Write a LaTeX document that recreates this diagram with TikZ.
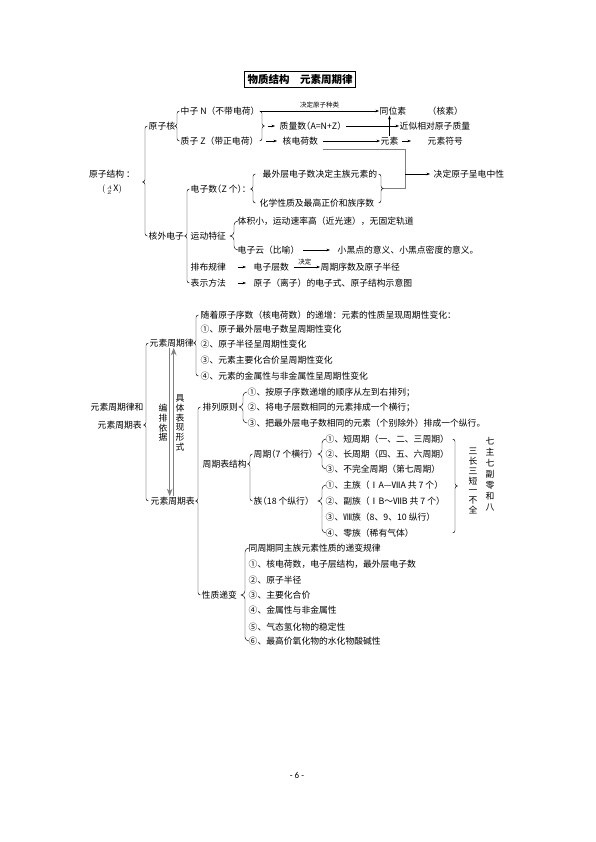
\documentclass[tikz,border=0pt]{standalone}
\usepackage{amsmath}
\usepackage{fontspec}
\setmainfont{Noto Sans CJK SC}
\newfontfamily\pagefont{Carlito}
\usetikzlibrary{arrows.meta,calc}

\newcommand\zh{\fontsize{8.8}{10.5}\selectfont}
% left brace: [depth]{x}{tip}{first}{last}
\newcommand\lbr[5][2.5pt]{%
  \draw[brc] let \p1=(#3), \p2=(#4), \p3=(#5) in
    ({#2pt+#1},\y2) to[out=180,in=90] ({#2pt},\y2-#1) -- ({#2pt},\y1+#1)
    to[out=-90,in=0] ({#2pt-#1},\y1) to[out=0,in=90] ({#2pt},\y1-#1)
    -- ({#2pt},\y3+#1) to[out=-90,in=180] ({#2pt+#1},\y3);}
% right brace: [depth]{x}{first}{last}{tip name}
\newcommand\rbr[5][2.5pt]{%
  \draw[brc] let \p2=(#3), \p3=(#4) in
    ({#2pt-#1},\y2) to[out=0,in=90] ({#2pt},\y2-#1) -- ({#2pt},{(\y2+\y3)/2+#1})
    to[out=-90,in=180] ({#2pt+#1},{(\y2+\y3)/2}) coordinate (#5)
    to[out=180,in=90] ({#2pt},{(\y2+\y3)/2-#1}) -- ({#2pt},\y3+#1)
    to[out=-90,in=0] ({#2pt-#1},\y3);}

\begin{document}
\begin{tikzpicture}[
  x=1pt, y=-1pt,
  >=Stealth,
  every node/.style={inner sep=0.5pt, font=\zh},
  item/.style={anchor=west},
  narrow/.style={font=\zh\addfontfeatures{RawFeature=+halt}},
  arr/.style={->, >={Stealth[length=3.5pt,width=2.6pt]}, line width=0.45pt},
  brc/.style={line width=0.45pt},
  gline/.style={line width=1pt, black!50},
  vtext/.style={align=center, inner sep=0pt, font=\fontsize{8.8}{9.7}\selectfont},
  note/.style={font=\fontsize{6.5}{7}\selectfont, inner sep=1pt}
]
  \path[use as bounding box, fill=white] (0,0) rectangle (596,842);

  \node[draw, line width=0.6pt, inner xsep=3pt, inner ysep=3pt,
    font=\fontsize{10.5}{12}\selectfont\bfseries] (title) at (300,79) {物质结构　元素周期律};

  % 原子结构
  \node[align=center] (yzjg) at (112,182) {原子结构 ：\\[4pt]$(\genfrac{}{}{0pt}{3}{A}{Z}\mathrm{X})$};
  \node[item] (yzh) at (148,126) {原子核};
  \node[item] (zz) at (180,111) {中子 N（不带电荷）};
  \node[item] (zhz) at (180,141) {质子 Z（带正电荷）};
  \node[item] (twx) at (379,111) {同位素};
  \node[item] (hs) at (427,111) {（核素）};
  \node[item, narrow] (zls) at (279,126) {质量数（A=N+Z）};
  \node[item] (jsxd) at (399,126) {近似相对原子质量};
  \node[item] (hdhs) at (282,141) {核电荷数};
  \node[item] (ys) at (380,141) {元素};
  \node[item] (ysfh) at (427,141) {元素符号};
  \node[item] (dzx) at (433,174) {决定原子呈电中性};

  \node[item] (hwdz) at (148,236) {核外电子};
  \node[item, narrow] (dzs) at (190,189) {电子数（Z 个）：};
  \node[item] (zwc) at (262,174) {最外层电子数决定主族元素的};
  \node[item] (hxxz) at (259,203) {化学性质及最高正价和族序数};
  \node[item] (ydtz) at (190,236) {运动特征};
  \node[item] (tjx) at (237,221) {体积小，运动速率高（近光速），无固定轨道};
  \node[item] (dzy) at (237,250) {电子云（比喻）};
  \node[item] (xhd) at (337,250) {小黑点的意义、小黑点密度的意义。};
  \node[item] (pbgl) at (190,267) {排布规律};
  \node[item] (dzcs) at (253,267) {电子层数};
  \node[item] (zqxs) at (320,267) {周期序数及原子半径};
  \node[item] (bsff) at (190,283) {表示方法};
  \node[item] (dzsh) at (253,283) {原子（离子）的电子式、原子结构示意图};

  \lbr{145}{yzjg}{yzh}{hwdz}
  \lbr{177}{yzh}{zz}{zhz}
  \rbr{262}{zz}{zhz}{nbr}
  \lbr{187}{hwdz}{dzs}{bsff}
  \lbr{253}{dzs}{zwc}{hxxz}
  \rbr{381}{zwc}{hxxz}{ebr}
  \lbr[4pt]{234}{ydtz}{tjx}{dzy}

  \draw[arr] (zz) -- (twx) node[note, midway, above=1.5pt] {决定原子种类};
  \draw[arr, shorten <=3pt, shorten >=4pt] (nbr) -- (zls);
  \draw[arr, shorten <=4pt] (zls) -- (jsxd);
  \draw[arr, shorten <=7pt, shorten >=5pt] (zhz) -- (hdhs);
  \draw[arr, shorten <=4pt] (hdhs) -- (ys);
  \draw[arr, shorten <=3pt, shorten >=16pt] (ys) -- (ysfh);
  \draw[arr] (ys.north) -- (ys.north |- twx.south);

  \coordinate (jtop) at (405,150);
  \coordinate (jn) at (405,174);
  \draw[gline] (hdhs.east |- jtop) ++(4,0) -- (jtop) -- (jtop |- ebr) -- (ebr);
  \draw[arr, shorten >=3pt] (jn) -- (dzx);

  \draw[arr, shorten <=3pt, shorten >=7pt] (dzy) -- (xhd);
  \draw[arr, shorten <=11pt, shorten >=7pt] (pbgl) -- (dzcs);
  \draw[arr, shorten <=4pt] (dzcs) -- (zqxs) node[note, midway, above=0.5pt] {决定};
  \draw[arr, shorten <=11pt, shorten >=7pt] (bsff) -- (dzsh);

  % 元素周期律和元素周期表
  \node[item] (yzl1) at (90,407) {元素周期律和};
  \node[item] (yzl2) at (97,425) {元素周期表};
  \node[item] (zqL) at (149,343) {元素周期律};
  \node[item] (zqB) at (150,501) {元素周期表};

  \node[item] (lw0) at (200,315) {随着原子序数（核电荷数）的递增：元素的性质呈现周期性变化：};
  \node[item] (lw1) at (200,329) {①、原子最外层电子数呈周期性变化};
  \node[item] (lw2) at (200,344) {②、原子半径呈周期性变化};
  \node[item] (lw3) at (200,360) {③、元素主要化合价呈周期性变化};
  \node[item] (lw4) at (200,376) {④、元素的金属性与非金属性呈周期性变化};

  \node[item] (plyz) at (202,407) {排列原则};
  \node[item] (pl1) at (247,392) {①、按原子序数递增的顺序从左到右排列；};
  \node[item] (pl2) at (247,407) {②、将电子层数相同的元素排成一个横行；};
  \node[item] (pl3) at (247,423) {③、把最外层电子数相同的元素（个别除外）排成一个纵行。};

  \node[item] (jg) at (202,464) {周期表结构};
  \node[item, narrow] (zq) at (253,454) {周期（7 个横行）};
  \node[item] (zq1) at (325,439) {①、短周期（一、二、三周期）};
  \node[item] (zq2) at (325,454) {②、长周期（四、五、六周期）};
  \node[item] (zq3) at (325,469) {③、不完全周期（第七周期）};
  \node[item, narrow] (zu) at (253,501) {族（18 个纵行）};
  \node[item] (zu1) at (325,485) {①、主族（ⅠA—ⅦA 共 7 个）};
  \node[item] (zu2) at (325,501) {②、副族（ⅠB～ⅦB 共 7 个）};
  \node[item] (zu3) at (325,517) {③、Ⅷ族（8、9、10 纵行）};
  \node[item] (zu4) at (325,533) {④、零族（稀有气体）};

  \node[item] (xzdb) at (201,595) {性质递变};
  \node[item] (xz0) at (248,548) {同周期同主族元素性质的递变规律};
  \node[item] (xz1) at (248,564) {①、核电荷数，电子层结构，最外层电子数};
  \node[item] (xz2) at (248,580) {②、原子半径};
  \node[item] (xz3) at (248,595) {③、主要化合价};
  \node[item] (xz4) at (248,610) {④、金属性与非金属性};
  \node[item] (xz5) at (248,627) {⑤、气态氢化物的稳定性};
  \node[item] (xz6) at (248,641) {⑥、最高价氧化物的水化物酸碱性};

  \node[vtext] (bpyj) at (163,423) {编\\排\\依\\据};
  \node[vtext] (jtbx) at (180,423) {具\\体\\表\\现\\形\\式};
  \node[vtext, font=\fontsize{8.8}{11}\selectfont] (qzq) at (490,474) {七\\主\\七\\副\\零\\和\\八};
  \node[vtext] (scd) at (473,481) {三\\长\\三\\短\\一\\不\\全};

  \lbr{146}{yzl2}{zqL}{zqB}
  \lbr{196}{zqL}{lw0}{lw4}
  \lbr{198}{zqB}{plyz}{xzdb}
  \lbr[4pt]{243}{plyz}{pl1}{pl3}
  \lbr{250}{jg}{zq}{zu}
  \lbr[4pt]{322}{zq}{zq1}{zq3}
  \lbr[4pt]{322}{zu}{zu1}{zu4}
  \lbr[4pt]{245}{xzdb}{xz0}{xz6}
  \rbr{455}{zq1}{zu4}{qbr}

  \draw[gline, ->] ([xshift=-2pt]zqL.south) -- ([xshift=-2pt]zqL.south |- zqB.north);
  \draw[gline, ->] ([xshift=2pt]zqL.south |- zqB.north) -- ([xshift=2pt]zqL.south);

  \node[font=\pagefont\fontsize{9}{10}\selectfont] (pgno) at (297,775) {- 6 -};
\end{tikzpicture}
\end{document}
